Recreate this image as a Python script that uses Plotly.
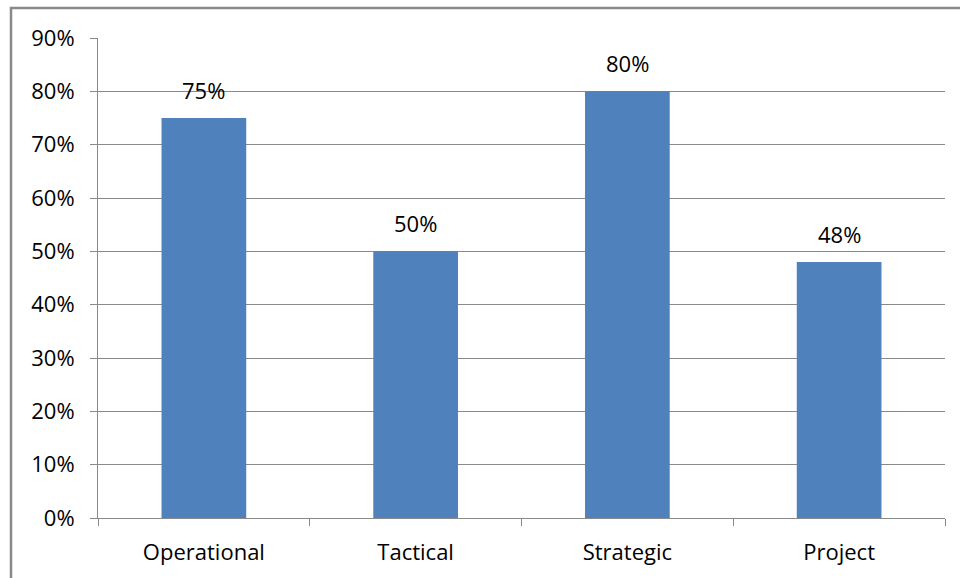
import plotly.graph_objects as go

categories = ["Operational", "Tactical", "Strategic", "Project"]
values = [0.75, 0.50, 0.80, 0.48]
labels = ["75%", "50%", "80%", "48%"]

grid = "#8a8a8a"
font = "Open Sans, Liberation Sans, Arial, sans-serif"
fs = 22

fig = go.Figure(go.Bar(
    x=categories, y=values,
    marker=dict(color="#4F81BD", line=dict(width=0)),
    width=0.4,
))

for c, v, t in zip(categories, values, labels):
    fig.add_annotation(x=c, y=v, text=t, showarrow=False, yanchor="bottom",
                       yshift=11, font=dict(size=fs, color="#000000", family=font))

fig.update_layout(
    width=960, height=578,
    margin=dict(l=98, r=15, t=38, b=60),
    paper_bgcolor="white", plot_bgcolor="white",
    showlegend=False,
    font=dict(family=font, size=fs, color="#000000"),
    xaxis=dict(
        type="category", tickson="boundaries", ticks="outside", ticklen=7,
        tickcolor=grid, tickwidth=1, showline=True, linecolor=grid, linewidth=1,
        showgrid=False, tickfont=dict(size=fs), range=[-0.5, 3.5],
        ticklabelstandoff=15,
    ),
    yaxis=dict(
        range=[0, 0.9], dtick=0.1, tickformat=".0%", ticks="outside", ticklen=7,
        tickcolor=grid, tickwidth=1, showline=True, linecolor=grid, linewidth=1,
        showgrid=True, gridcolor=grid, gridwidth=1, zeroline=False,
        tickfont=dict(size=fs), ticklabelstandoff=11,
    ),
    shapes=[dict(type="rect", xref="paper", yref="paper",
                 x0=(11 - 98) / 847, x1=1.2, y0=-0.3, y1=1 + (38 - 8) / 480,
                 line=dict(color="#898989", width=2.5), layer="below")],
)

fig.write_html("out.html")
